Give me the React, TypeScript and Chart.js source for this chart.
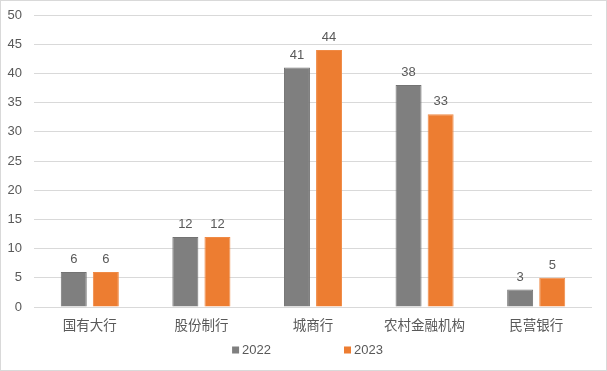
import React, { useEffect, useRef } from "react";
import { Chart, registerables } from "chart.js";

Chart.register(...registerables);

const categories = ["国有大行", "股份制行", "城商行", "农村金融机构", "民营银行"];
const series2022 = [6, 12, 41, 38, 3];
const series2023 = [6, 12, 44, 33, 5];
const yTicks = [0, 5, 10, 15, 20, 25, 30, 35, 40, 45, 50];

const FONT = "'Liberation Sans', 'Noto Sans CJK SC', sans-serif";
const TEXT = "#595959";

const labelPlugin = {
  id: "barLabels",
  afterDatasetsDraw(chart: any) {
    const ctx = chart.ctx;
    ctx.save();
    ctx.fillStyle = TEXT;
    ctx.font = `13px ${FONT}`;
    ctx.textAlign = "center";
    ctx.textBaseline = "bottom";
    chart.data.datasets.forEach((ds: any, i: number) => {
      const meta = chart.getDatasetMeta(i);
      meta.data.forEach((bar: any, j: number) => {
        ctx.fillText(String(ds.data[j]), bar.x, bar.y - 6);
      });
    });
    ctx.restore();
  },
};

const legendPlugin = {
  id: "customLegend",
  afterDraw(chart: any) {
    const ctx = chart.ctx;
    ctx.save();
    ctx.font = `13px ${FONT}`;
    ctx.textBaseline = "middle";
    const box = 7;
    const gap = 3;
    const spacing = 73;
    const items = chart.data.datasets.map((ds: any) => ({
      label: ds.label,
      color: ds.backgroundColor,
      w: box + gap + ctx.measureText(ds.label).width,
    }));
    const total = items.reduce((s: number, it: any) => s + it.w, 0) + spacing * (items.length - 1);
    let x = chart.width / 2 - total / 2 + 4;
    const y = 349;
    items.forEach((it: any) => {
      ctx.fillStyle = it.color;
      ctx.fillRect(x, y - box / 2, box, box);
      ctx.fillStyle = TEXT;
      ctx.textAlign = "left";
      ctx.fillText(it.label, x + box + gap, y);
      x += it.w + spacing;
    });
    ctx.restore();
  },
};

export default function App() {
  const ref = useRef<HTMLCanvasElement>(null);
  useEffect(() => {
    const chart = new Chart(ref.current!, {
      type: "bar",
      data: {
        labels: categories,
        datasets: [
          {
            label: "2022",
            data: series2022,
            backgroundColor: "#7f7f7f",
            borderColor: "#737373",
            borderWidth: 1,
            categoryPercentage: 0.575,
            barPercentage: 0.81,
          },
          {
            label: "2023",
            data: series2023,
            backgroundColor: "#ed7d31",
            borderColor: "#f08a45",
            borderWidth: 1,
            categoryPercentage: 0.575,
            barPercentage: 0.81,
          },
        ],
      },
      options: {
        animation: false,
        responsive: false,
        maintainAspectRatio: false,
        layout: { padding: { top: 14, right: 14, left: 0, bottom: 0 } },
        plugins: {
          tooltip: { enabled: false },
          legend: { display: false },
        },
        scales: {
          x: {
            grid: { display: false },
            border: { display: false },
            ticks: { color: TEXT, font: { family: FONT, size: 13.5 }, padding: 3 },
            afterFit(axis: any) {
              axis.height = 63;
            },
          },
          y: {
            min: 0,
            max: 50,
            afterBuildTicks(axis: any) {
              axis.ticks = yTicks.map((v) => ({ value: v }));
            },
            grid: { color: "#d9d9d9", drawTicks: false },
            border: { display: false },
            ticks: { color: TEXT, font: { family: FONT, size: 13, lineHeight: 0.3 }, padding: 12 },
            afterFit(axis: any) {
              axis.width = 33;
            },
          },
        },
      },
      plugins: [labelPlugin, legendPlugin],
    } as any);
    return () => chart.destroy();
  }, []);
  return (
    <div
      style={{
        position: "fixed",
        left: 0,
        top: 0,
        width: 607,
        height: 371,
        boxSizing: "border-box",
        border: "1px solid #d9d9d9",
        background: "#fff",
      }}
    >
      <canvas ref={ref} width={605} height={369} style={{ display: "block" }} />
    </div>
  );
}
